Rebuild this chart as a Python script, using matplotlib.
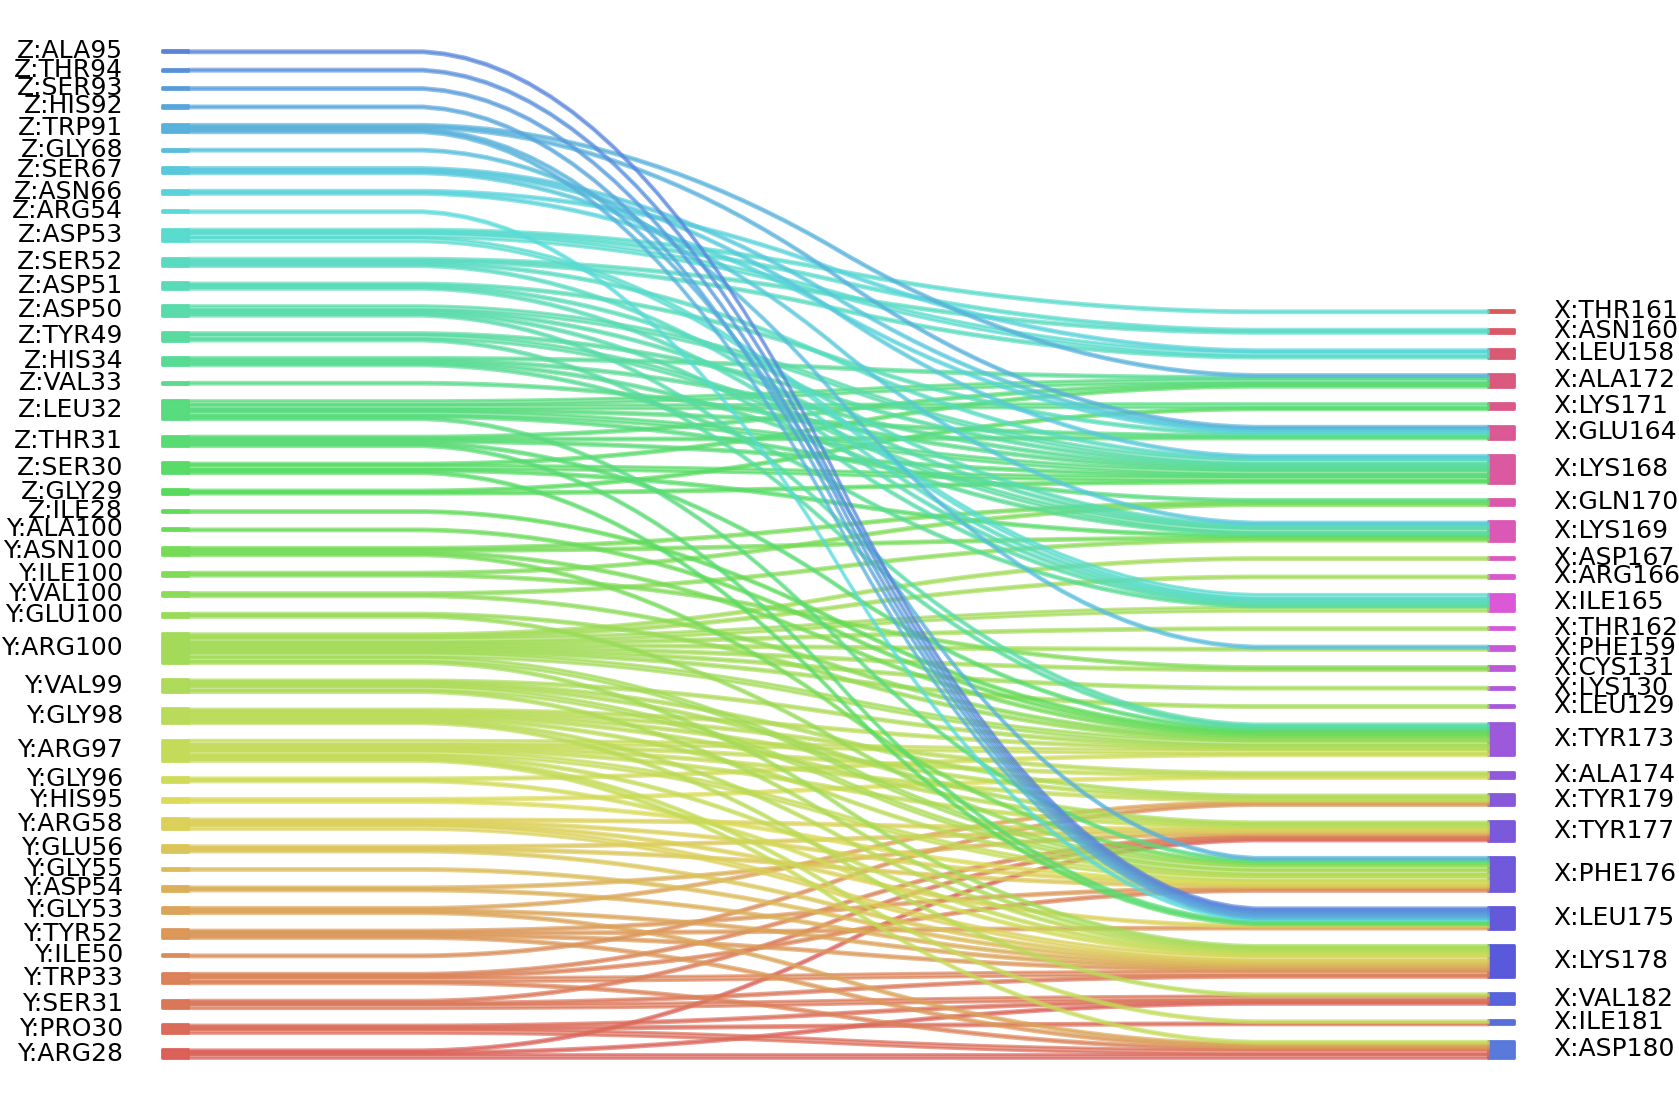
import numpy as np
import matplotlib
matplotlib.use("Agg")
import matplotlib.pyplot as plt
import seaborn as sns

# node order, bottom to top (as the sankey stacks them)
left_labels = [
    "Y:ARG28", "Y:PRO30", "Y:SER31", "Y:TRP33", "Y:ILE50", "Y:TYR52", "Y:GLY53",
    "Y:ASP54", "Y:GLY55", "Y:GLU56", "Y:ARG58", "Y:HIS95", "Y:GLY96", "Y:ARG97",
    "Y:GLY98", "Y:VAL99", "Y:ARG100", "Y:GLU100", "Y:VAL100", "Y:ILE100", "Y:ASN100",
    "Y:ALA100", "Z:ILE28", "Z:GLY29", "Z:SER30", "Z:THR31", "Z:LEU32", "Z:VAL33",
    "Z:HIS34", "Z:TYR49", "Z:ASP50", "Z:ASP51", "Z:SER52", "Z:ASP53", "Z:ARG54",
    "Z:ASN66", "Z:SER67", "Z:GLY68", "Z:TRP91", "Z:HIS92", "Z:SER93", "Z:THR94",
    "Z:ALA95",
]
right_labels = [
    "X:ASP180", "X:ILE181", "X:VAL182", "X:LYS178", "X:LEU175", "X:PHE176", "X:TYR177",
    "X:TYR179", "X:ALA174", "X:TYR173", "X:LEU129", "X:LYS130", "X:CYS131", "X:PHE159",
    "X:THR162", "X:ILE165", "X:ARG166", "X:ASP167", "X:LYS169", "X:GLN170", "X:LYS168",
    "X:GLU164", "X:LYS171", "X:ALA172", "X:LEU158", "X:ASN160", "X:THR161",
]

# contacts: source residue, target residue, weight
link_left = (
    ["Z:ALA95", "Z:THR94", "Z:SER93", "Z:HIS92"]
    + ["Z:TRP91"] * 4 + ["Z:GLY68"] + ["Z:SER67"] * 3 + ["Z:ASN66"] * 2 + ["Z:ARG54"]
    + ["Z:ASP53"] * 4 + ["Z:SER52"] * 4 + ["Z:ASP51"] * 3 + ["Z:ASP50"] * 4
    + ["Z:TYR49"] * 3 + ["Z:HIS34"] * 4 + ["Z:VAL33"] + ["Z:LEU32"] * 6
    + ["Z:THR31"] * 5 + ["Z:SER30"] * 4 + ["Z:GLY29"] * 2 + ["Z:ILE28"] + ["Y:ALA100"]
    + ["Y:ASN100"] * 4 + ["Y:ILE100"] * 2 + ["Y:VAL100"] * 2 + ["Y:GLU100"] * 2
    + ["Y:ARG100"] * 11 + ["Y:VAL99"] * 5 + ["Y:GLY98"] * 7 + ["Y:ARG97"] * 8
    + ["Y:GLY96"] * 2 + ["Y:HIS95"] * 2 + ["Y:ARG58"] * 4 + ["Y:GLU56"] * 3 + ["Y:GLY55"]
    + ["Y:ASP54"] * 2 + ["Y:GLY53"] * 3 + ["Y:TYR52"] * 4 + ["Y:ILE50"] + ["Y:TRP33"] * 4
    + ["Y:SER31"] * 3 + ["Y:PRO30"] * 3 + ["Y:ARG28"] * 3
)
link_right = [
    "X:LEU175", "X:LEU175", "X:LEU175", "X:LEU175",
    "X:ALA172", "X:GLU164", "X:LEU175", "X:PHE176",
    "X:PHE159",
    "X:GLU164", "X:LYS168", "X:LYS169",
    "X:LEU158", "X:GLU164",
    "X:LEU175",
    "X:THR161", "X:ASN160", "X:LEU158", "X:ILE165",
    "X:ASN160", "X:LEU158", "X:LYS168", "X:ILE165",
    "X:GLU164", "X:LYS169", "X:ILE165",
    "X:LYS168", "X:LYS169", "X:ILE165", "X:TYR173",
    "X:LYS168", "X:LYS169", "X:TYR173",
    "X:ALA172", "X:LYS168", "X:LYS169", "X:ILE165",
    "X:LYS168",
    "X:ALA172", "X:LYS171", "X:GLU164", "X:LYS168", "X:GLN170", "X:PHE176",
    "X:ALA172", "X:GLU164", "X:LYS168", "X:TYR173", "X:LEU175",
    "X:ALA172", "X:LYS168", "X:LYS169", "X:LEU175",
    "X:LYS171", "X:LYS168",
    "X:TYR173",
    "X:TYR173",
    "X:GLN170", "X:LYS169", "X:TYR173", "X:PHE176",
    "X:GLN170", "X:CYS131",
    "X:LYS169", "X:TYR173",
    "X:TYR173", "X:PHE176",
    "X:ASP167", "X:ARG166", "X:ILE165", "X:THR162", "X:PHE159", "X:CYS131",
    "X:LYS130", "X:LEU129", "X:TYR173", "X:PHE176", "X:LYS178",
    "X:TYR173", "X:TYR179", "X:TYR177", "X:PHE176", "X:LYS178",
    "X:TYR173", "X:ALA174", "X:TYR179", "X:TYR177", "X:PHE176", "X:VAL182", "X:LYS178",
    "X:TYR173", "X:ALA174", "X:TYR179", "X:TYR177", "X:PHE176", "X:LYS178",
    "X:ILE181", "X:ASP180",
    "X:TYR173", "X:LYS178",
    "X:ALA174", "X:PHE176",
    "X:TYR177", "X:PHE176", "X:LEU175", "X:LYS178",
    "X:TYR177", "X:PHE176", "X:LYS178",
    "X:LYS178",
    "X:TYR177", "X:LYS178",
    "X:LYS178", "X:ASP180", "X:TYR179",
    "X:PHE176", "X:LEU175", "X:LYS178", "X:ASP180",
    "X:TYR179",
    "X:TYR177", "X:PHE176", "X:LYS178", "X:ASP180",
    "X:TYR177", "X:LYS178", "X:VAL182",
    "X:VAL182", "X:ILE181", "X:ASP180",
    "X:VAL182", "X:ASP180", "X:TYR177",
]
link_weight = [
    1, 1, 1, 1,
    1, 1, 1, 1,
    1,
    1, 1, 1,
    1, 1,
    1,
    1, 1, 2, 2,
    1, 1, 1, 1,
    1, 1, 1,
    2, 1, 1, 1,
    1, 2, 1,
    1, 1, 1, 1,
    1,
    2, 2, 1, 2, 1, 1,
    1, 1, 1, 1, 1,
    1, 2, 1, 1,
    1, 1,
    1,
    1,
    1, 1, 1, 1,
    1, 1,
    1, 1,
    1, 1,
    1, 1, 2, 1, 1, 1,
    1, 1, 2, 2, 1,
    1, 1, 1, 2, 1,
    1, 1, 1, 1, 1, 1, 1,
    2, 1, 1, 1, 2, 1,
    1, 1,
    1, 1,
    1, 1,
    1, 1, 1, 2,
    1, 1, 1,
    1,
    1, 1,
    1, 1, 1,
    1, 1, 1, 1,
    1,
    1, 1, 2, 1,
    1, 1, 2,
    1, 1, 2,
    1, 2, 1,
]

# merge into pair weights
pair_w = {}
for l, r, w in zip(link_left, link_right, link_weight):
    pair_w[(l, r)] = pair_w.get((l, r), 0) + w

total = sum(link_weight)
gap = 0.05 * total


def stack(labels, idx):
    pos = {}
    bottom = 0.0
    for lab in labels:
        h = sum(w for k, w in pair_w.items() if k[idx] == lab)
        pos[lab] = [bottom, h]
        bottom += h + gap
    return pos, bottom - gap


left_pos, left_top = stack(left_labels, 0)
right_pos, right_top = stack(right_labels, 1)

palette = sns.color_palette("hls", len(left_labels) + len(right_labels))
colour = dict(zip(left_labels + right_labels, palette))

# figure and pixel anchors of the drawing area
W, H = 1679, 1108
fig = plt.figure(figsize=(W / 100, H / 100), dpi=100)
ax = fig.add_axes([0, 0, 1, 1])
px_x0, px_x1 = 188.0, 1488.0
px_ybot, px_ytop = 1057.8, 50.2
sx = 1.0 / (px_x1 - px_x0)
sy = left_top / (px_ybot - px_ytop)
ax.set_xlim(-px_x0 * sx, (W - px_x0) * sx)
ax.set_ylim(-(H - px_ybot) * sy, left_top + px_ytop * sy)
ax.axis("off")

fs = 18
lw = 2.0

# node bars and labels
for lab in left_labels:
    b, h = left_pos[lab]
    ax.fill_between([-0.02, 0], [b, b], [b + h, b + h], color=colour[lab], alpha=0.99, lw=lw)
    ax.text(-0.05, b + 0.5 * h, lab, ha="right", va="center", fontsize=fs)
for lab in right_labels:
    b, h = right_pos[lab]
    ax.fill_between([1, 1.02], [b, b], [b + h, b + h], color=colour[lab], alpha=0.99, lw=lw)
    ax.text(1.05, b + 0.5 * h, lab, ha="left", va="center", fontsize=fs)

# strips
kernel = 0.05 * np.ones(20)


def smooth(a, b):
    ys = np.array(50 * [a] + 50 * [b])
    ys = np.convolve(ys, kernel, mode="valid")
    return np.convolve(ys, kernel, mode="valid")


lcur = {lab: left_pos[lab][0] for lab in left_labels}
rcur = {lab: right_pos[lab][0] for lab in right_labels}
for l in left_labels:
    for r in right_labels:
        w = pair_w.get((l, r))
        if not w:
            continue
        yd = smooth(lcur[l], rcur[r])
        yu = smooth(lcur[l] + w, rcur[r] + w)
        lcur[l] += w
        rcur[r] += w
        xs = np.linspace(0, 1, len(yd))
        ax.fill_between(xs, yd, yu, color=colour[l], alpha=0.65, lw=lw)

fig.savefig("out.png", dpi=100)
